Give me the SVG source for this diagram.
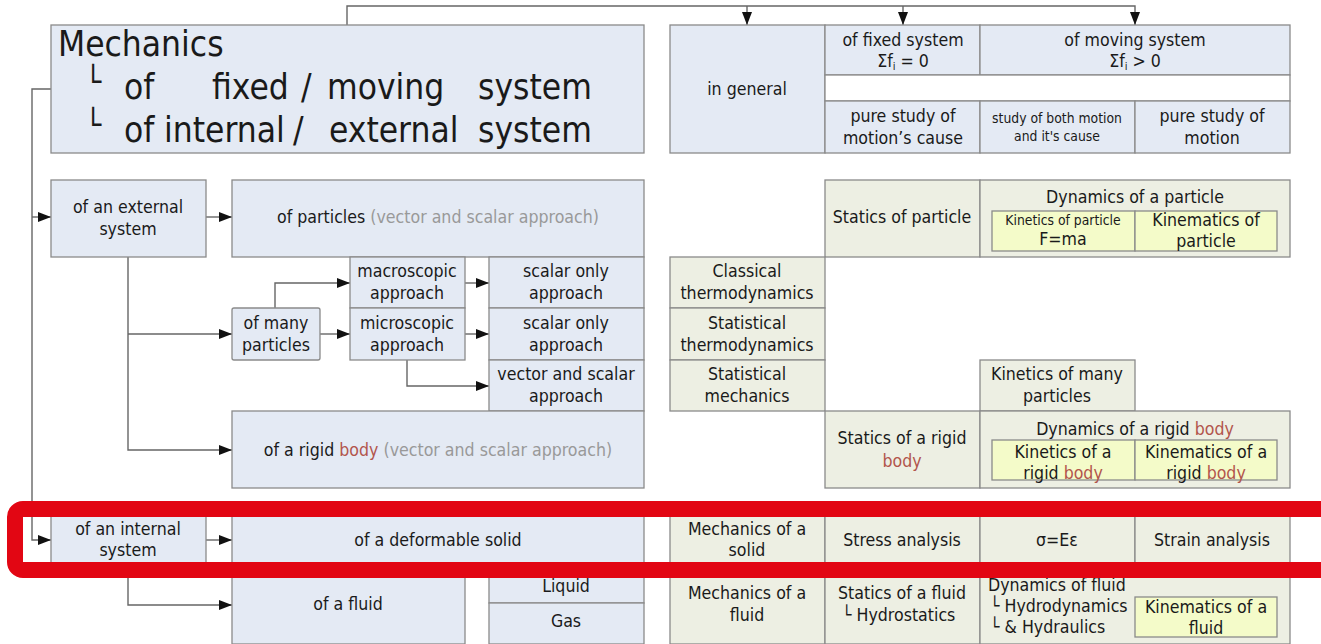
<svg xmlns="http://www.w3.org/2000/svg" width="1321" height="644" viewBox="0 0 1321 644">
<style>
  text { font-family: "DejaVu Sans Condensed", "DejaVu Sans", "Liberation Sans", sans-serif; fill: #1a1a1a; font-size: 17.6px; }
  .c { text-anchor: middle; }
  .sm { font-size: 13.8px; }
  .title { font-size: 35px; }
  .tick { font-size: 30px; }
  .gray { fill: #999999; }
  .body { fill: #b2554c; }
  .blue rect { fill: #e4eaf4; stroke: #8a8a8a; stroke-width: 1.3; }
  .green rect { fill: #edefe3; stroke: #8a8a8a; stroke-width: 1.3; }
  rect.inner { fill: #f4fbc9; stroke: #8a8a8a; stroke-width: 1.3; }
  .conn path { fill: none; stroke: #666666; stroke-width: 1.4; }
  .hl { fill: none; stroke: #e20613; stroke-width: 16; }
</style>
<defs>
  <marker id="ah" viewBox="0 0 13 10" refX="13" refY="5" markerWidth="13" markerHeight="10" markerUnits="userSpaceOnUse" orient="auto">
    <path d="M0,0 L13,5 L0,10 Z" fill="#111"/>
  </marker>
</defs>
<rect width="1321" height="644" fill="#ffffff"/>

<g id="connectors" class="conn">
  <path d="M347,25 V6 H1135 V25" marker-end="url(#ah)"/>
  <path d="M747,6 V25" marker-end="url(#ah)"/>
  <path d="M903,6 V25" marker-end="url(#ah)"/>
  <path d="M903,75 V101" marker-end="url(#ah)"/>
  <path d="M1135,75 V90 H1057 V101" marker-end="url(#ah)"/>
  <path d="M1135,90 H1212 V101" marker-end="url(#ah)"/>
  <path d="M51,89 H32 V540 H51" marker-end="url(#ah)"/>
  <path d="M32,217 H51" marker-end="url(#ah)"/>
  <path d="M206,217 H232" marker-end="url(#ah)"/>
  <path d="M128,257 V450 H232" marker-end="url(#ah)"/>
  <path d="M128,334 H232" marker-end="url(#ah)"/>
  <path d="M275,308 V283 H350" marker-end="url(#ah)"/>
  <path d="M320,334 H350" marker-end="url(#ah)"/>
  <path d="M465,283 H489" marker-end="url(#ah)"/>
  <path d="M465,334 H489" marker-end="url(#ah)"/>
  <path d="M407,360 V386 H489" marker-end="url(#ah)"/>
  <path d="M206,540 H232" marker-end="url(#ah)"/>
  <path d="M128,565 V605 H232" marker-end="url(#ah)"/>
</g>

<g class="blue">
  <g id="title"><rect x="51" y="25" width="593" height="128"/>
    <text class="title" x="58" y="56">Mechanics</text>
    <text class="title" y="99"><tspan class="tick" x="85" y="92">└</tspan><tspan x="124" y="99">of</tspan><tspan x="212">fixed</tspan><tspan x="301">/</tspan><tspan x="327">moving</tspan><tspan x="478">system</tspan></text>
    <text class="title" y="142"><tspan class="tick" x="85" y="135">└</tspan><tspan x="124" y="142">of</tspan><tspan x="164">internal</tspan><tspan x="293">/</tspan><tspan x="329">external</tspan><tspan x="478">system</tspan></text>
  </g>
  <g id="in-general"><rect x="670" y="25" width="155" height="128"/><text class="c" x="747" y="95">in general</text></g>
  <g id="fixed-system"><rect x="825" y="25" width="155" height="50"/><text class="c" x="903" y="46">of fixed system</text><text class="c" x="903" y="67">Σf<tspan font-size="11" dy="3">i</tspan><tspan dy="-3"> = 0</tspan></text></g>
  <g id="moving-system"><rect x="980" y="25" width="310" height="50"/><text class="c" x="1135" y="46">of moving system</text><text class="c" x="1135" y="67">Σf<tspan font-size="11" dy="3">i</tspan><tspan dy="-3"> &gt; 0</tspan></text></g>
  <g id="gap"><rect x="825" y="75" width="465" height="26" style="fill:#ffffff"/></g>
  <g id="pure-cause"><rect x="825" y="101" width="155" height="52"/><text class="c" x="903" y="122">pure study of</text><text class="c" x="903" y="144">motion’s cause</text></g>
  <g id="both"><rect x="980" y="101" width="155" height="52"/><text class="c sm" x="1057" y="123">study of both motion</text><text class="c sm" x="1057" y="141">and it's cause</text></g>
  <g id="pure-motion"><rect x="1135" y="101" width="155" height="52"/><text class="c" x="1212" y="122">pure study of</text><text class="c" x="1212" y="144">motion</text></g>

  <g id="external"><rect x="51" y="180" width="155" height="77"/><text class="c" x="128" y="213">of an external</text><text class="c" x="128" y="235">system</text></g>
  <g id="particles"><rect x="232" y="180" width="412" height="77"/><text class="c" x="438" y="223">of particles <tspan class="gray">(vector and scalar approach)</tspan></text></g>
  <g id="macro"><rect x="350" y="257" width="115" height="51"/><text class="c" x="407" y="277">macroscopic</text><text class="c" x="407" y="299">approach</text></g>
  <g id="scalar1"><rect x="489" y="257" width="155" height="51"/><text class="c" x="566" y="277">scalar only</text><text class="c" x="566" y="299">approach</text></g>
  <g id="many"><rect x="232" y="308" width="88" height="52" rx="2"/><text class="c" x="276" y="329">of many</text><text class="c" x="276" y="351">particles</text></g>
  <g id="micro"><rect x="350" y="308" width="115" height="52"/><text class="c" x="407" y="329">microscopic</text><text class="c" x="407" y="351">approach</text></g>
  <g id="scalar2"><rect x="489" y="308" width="155" height="52"/><text class="c" x="566" y="329">scalar only</text><text class="c" x="566" y="351">approach</text></g>
  <g id="vector"><rect x="489" y="360" width="155" height="51"/><text class="c" x="566" y="380">vector and scalar</text><text class="c" x="566" y="402">approach</text></g>
  <g id="rigid"><rect x="232" y="411" width="412" height="77"/><text class="c" x="438" y="456">of a rigid <tspan class="body">body</tspan> <tspan class="gray">(vector and scalar approach)</tspan></text></g>
  <g id="internal"><rect x="51" y="514" width="155" height="52"/><text class="c" x="128" y="535">of an internal</text><text class="c" x="128" y="556">system</text></g>
  <g id="deformable"><rect x="232" y="514" width="412" height="52"/><text class="c" x="438" y="546">of a deformable solid</text></g>
  <g id="fluid"><rect x="232" y="566" width="233" height="78"/><text class="c" x="348" y="610">of a fluid</text></g>
  <g id="liquid"><rect x="489" y="566" width="155" height="37"/><text class="c" x="566" y="592">Liquid</text></g>
  <g id="gas"><rect x="489" y="603" width="155" height="41"/><text class="c" x="566" y="627">Gas</text></g>
</g>

<g class="green">
  <g id="statics-particle"><rect x="825" y="180" width="155" height="77"/><text class="c" x="902" y="223">Statics of particle</text></g>
  <g id="dynamics-particle"><rect x="980" y="180" width="310" height="77"/><text class="c" x="1135" y="203">Dynamics of a particle</text>
    <rect class="inner" x="992" y="211" width="143" height="40"/><text class="c sm" x="1063" y="225">Kinetics of particle</text><text class="c" x="1063" y="245">F=ma</text>
    <rect class="inner" x="1135" y="211" width="142" height="40"/><text class="c" x="1206" y="226">Kinematics of</text><text class="c" x="1206" y="247">particle</text></g>
  <g id="classical"><rect x="670" y="257" width="155" height="51"/><text class="c" x="747" y="277">Classical</text><text class="c" x="747" y="299">thermodynamics</text></g>
  <g id="stat-thermo"><rect x="670" y="308" width="155" height="52"/><text class="c" x="747" y="329">Statistical</text><text class="c" x="747" y="351">thermodynamics</text></g>
  <g id="stat-mech"><rect x="670" y="360" width="155" height="51"/><text class="c" x="747" y="380">Statistical</text><text class="c" x="747" y="402">mechanics</text></g>
  <g id="kinetics-many"><rect x="980" y="360" width="155" height="51"/><text class="c" x="1057" y="380">Kinetics of many</text><text class="c" x="1057" y="402">particles</text></g>
  <g id="statics-rigid"><rect x="825" y="411" width="155" height="77"/><text class="c" x="902" y="444">Statics of a rigid</text><text class="c body" x="902" y="467">body</text></g>
  <g id="dynamics-rigid"><rect x="980" y="411" width="310" height="77"/><text class="c" x="1135" y="435">Dynamics of a rigid <tspan class="body">body</tspan></text>
    <rect class="inner" x="992" y="440" width="143" height="40"/><text class="c" x="1063" y="458">Kinetics of a</text><text class="c" x="1063" y="479">rigid <tspan class="body">body</tspan></text>
    <rect class="inner" x="1135" y="440" width="142" height="40"/><text class="c" x="1206" y="458">Kinematics of a</text><text class="c" x="1206" y="479">rigid <tspan class="body">body</tspan></text></g>
  <g id="mech-solid"><rect x="670" y="514" width="155" height="52"/><text class="c" x="747" y="535">Mechanics of a</text><text class="c" x="747" y="556">solid</text></g>
  <g id="stress"><rect x="825" y="514" width="155" height="52"/><text class="c" x="902" y="546">Stress analysis</text></g>
  <g id="hooke"><rect x="980" y="514" width="155" height="52"/><text class="c" x="1057" y="546">σ=Eε</text></g>
  <g id="strain"><rect x="1135" y="514" width="155" height="52"/><text class="c" x="1212" y="546">Strain analysis</text></g>
  <g id="mech-fluid"><rect x="670" y="566" width="155" height="78"/><text class="c" x="747" y="599">Mechanics of a</text><text class="c" x="747" y="621">fluid</text></g>
  <g id="statics-fluid"><rect x="825" y="566" width="155" height="78"/><text class="c" x="902" y="599">Statics of a fluid</text><text x="842" y="621">└ Hydrostatics</text></g>
  <g id="dynamics-fluid"><rect x="980" y="566" width="310" height="78"/><text x="988" y="591">Dynamics of fluid</text><text x="990" y="612">└ Hydrodynamics</text><text x="990" y="633">└ &amp; Hydraulics</text>
    <rect class="inner" x="1135" y="597" width="142" height="40"/><text class="c" x="1206" y="613">Kinematics of a</text><text class="c" x="1206" y="634">fluid</text></g>
</g>

<rect class="hl" x="15" y="509" width="1320" height="61" rx="8"/>
</svg>
